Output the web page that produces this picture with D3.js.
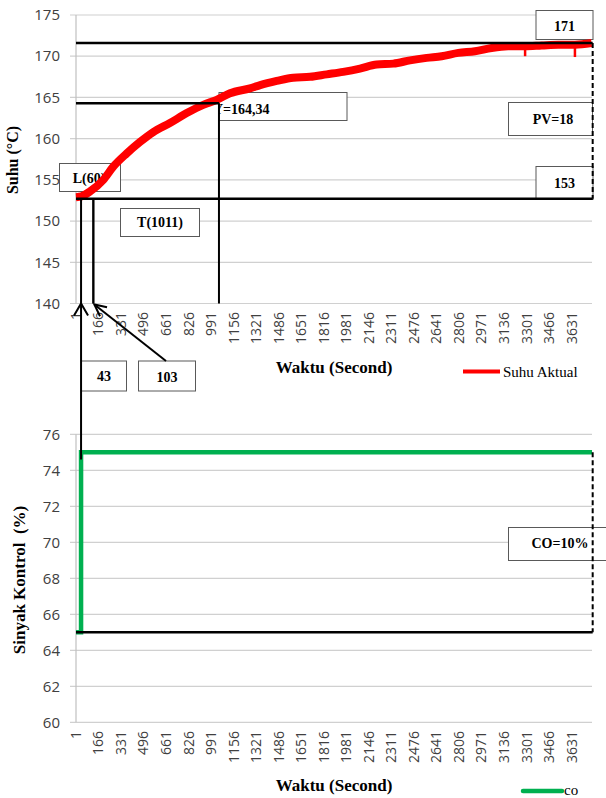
<!DOCTYPE html>
<html lang="en">
<head>
    <meta charset="UTF-8">
    <title>Suhu Aktual dan Sinyak Kontrol</title>
    <style>
        body { margin: 0; background: #fff; }
        svg { display: block; }
        .tick-label { font-family: "Open Sans", sans-serif; font-size: 14px; fill: #404040; }
        .y-label { font-size: 15px; }
        .title { font-family: "Liberation Serif", serif; font-weight: bold; fill: #000; }
        .note { font-family: "Liberation Serif", serif; font-weight: bold; font-size: 14px; fill: #000; }
        .legend { font-family: "Liberation Serif", serif; font-size: 15px; fill: #000; }
    </style>
</head>
<body>
    <svg id="chart" width="606" height="798"></svg>

    <script src="https://d3js.org/d3.v7.min.js"></script>
    <script>
        // ---- data ----
        const timeTicks = d3.range(1, 3632, 165);          // 1, 166, ... 3631
        const suhuTicks = [140, 145, 150, 155, 160, 165, 170, 175];
        const coTicks = [60, 62, 64, 66, 68, 70, 72, 74, 76];

        // Suhu Aktual (deg C) against time (s)
        const suhuTime = [1, 40, 104, 201, 274, 372, 470, 567, 689, 812, 933, 1031, 1129, 1275, 1350,
                          1471, 1592, 1715, 1837, 1958, 2081, 2203, 2325, 2447, 2569, 2679, 2801,
                          2923, 3045, 3167, 3289, 3411, 3533, 3655, 3777];
        const suhuValue = [152.9, 153.0, 153.6, 155.0, 156.6, 158.2, 159.6, 160.8, 161.9, 163.1, 164.1, 164.7,
                           165.5, 166.1, 166.5, 167.0, 167.4, 167.5, 167.8, 168.1, 168.5, 169.0, 169.1,
                           169.5, 169.8, 170.0, 170.4, 170.6, 171.0, 171.2, 171.2, 171.3, 171.4, 171.4, 171.6];
        // short downward spikes in the noisy trace
        const dipTime = [3290, 3655];
        const dipValue = [170.0, 169.9];

        // control output (%)
        const coTime = [1, 38, 38, 3780];
        const coValue = [65, 65, 75, 75];

        // annotation values
        const pvHigh = 171.6, pvMid = 164.3, pvLow = 152.7;
        const tStart = 38, tL = 128, tT = 1048, tEnd = 3785;
        const coHigh = 75, coLow = 65, coArrowEnd = 74.6;
        const topNotes = ["171", "PV=18", "153", "L(60)", "T(1011)", "43", "103"];
        const midNote = "Y=164,34";
        const coNote = "CO=10%";

        // ---- layout ----
        const svg = d3.select("#chart");
        const x = d3.scaleLinear().domain([1, 3780]).range([76, 592]);
        const yTop = d3.scaleLinear().domain([140, 175]).range([303.5, 15]);
        const yBot = d3.scaleLinear().domain([60, 76]).range([722.3, 434.3]);

        function drawFrame(y, ticks, labelY) {
            const g = svg.append("g");
            g.selectAll("line.grid").data(ticks).enter().append("line")
                .attr("x1", 70).attr("x2", 592)
                .attr("y1", d => y(d)).attr("y2", d => y(d))
                .attr("stroke", "#d0d0d0").attr("stroke-width", 1.2);
            g.append("line")
                .attr("x1", 76).attr("x2", 76)
                .attr("y1", y.range()[1]).attr("y2", y.range()[0])
                .attr("stroke", "#c0c0c0").attr("stroke-width", 1.2);
            g.selectAll("text.yl").data(ticks).enter().append("text")
                .attr("class", "tick-label y-label")
                .attr("x", 60).attr("y", d => y(d)).attr("dy", "0.35em")
                .attr("text-anchor", "end")
                .text(d => d);
            g.selectAll("text.xl").data(timeTicks).enter().append("text")
                .attr("class", "tick-label")
                .attr("transform", d => `translate(${x(d)},${labelY}) rotate(-90)`)
                .attr("dy", "0.35em")
                .attr("text-anchor", "end")
                .text(d => d);
            return g;
        }

        function box(x0, y0, w, h, label, cx, cy, cls) {
            svg.append("rect").attr("x", x0).attr("y", y0).attr("width", w).attr("height", h)
                .attr("fill", "#fff").attr("stroke", "#595959").attr("stroke-width", 1);
            svg.append("text").attr("class", cls || "note")
                .attr("x", cx).attr("y", cy).attr("dy", "0.35em")
                .attr("text-anchor", "middle").text(label);
        }

        // ---- top chart ----
        drawFrame(yTop, suhuTicks, 312);

        svg.append("text").attr("class", "title").style("font-size", "16px")
            .attr("transform", "translate(18,160) rotate(-90)")
            .attr("text-anchor", "middle").text("Suhu (°C)");
        svg.append("text").attr("class", "title").style("font-size", "17px")
            .attr("x", 334).attr("y", 373).attr("text-anchor", "middle").text("Waktu (Second)");

        // text boxes (under the trace)
        box(536, 10.5, 57, 29, topNotes[0], 564.5, 26);
        box(508.5, 102.5, 84, 33, topNotes[1], 553, 119.5);
        box(536, 166.5, 57, 33, topNotes[2], 564.5, 183);
        box(59.5, 163.5, 61, 28, topNotes[3], 89, 178);
        box(120.5, 208.5, 79, 28, topNotes[4], 160, 222.5);
        box(81.5, 361, 45, 30, topNotes[5], 104, 376);
        box(138.5, 361, 57, 30, topNotes[6], 167, 377);

        // clipped "Y=164,34" box
        svg.append("clipPath").attr("id", "midclip").append("rect")
            .attr("x", 219).attr("y", 92.5).attr("width", 128).attr("height", 28);
        svg.append("rect").attr("x", 219).attr("y", 92.5).attr("width", 128).attr("height", 28)
            .attr("fill", "#fff").attr("stroke", "#595959").attr("stroke-width", 1);
        svg.append("text").attr("class", "note").attr("clip-path", "url(#midclip)")
            .attr("x", 213).attr("y", 109.5).attr("dy", "0.35em").text(midNote);

        // Suhu Aktual trace
        const suhuPts = suhuTime.map((t, i) => [t, suhuValue[i]]);
        svg.append("path")
            .attr("d", d3.line().x(d => x(d[0])).y(d => yTop(d[1])).curve(d3.curveMonotoneX)(suhuPts))
            .attr("fill", "none").attr("stroke", "#ff0000").attr("stroke-width", 8)
            .attr("stroke-linejoin", "round").attr("stroke-linecap", "butt");
        svg.selectAll("line.dip").data(dipTime).enter().append("line")
            .attr("x1", d => x(d)).attr("x2", d => x(d))
            .attr("y1", (d, i) => yTop(dipValue[i] + 1.3)).attr("y2", (d, i) => yTop(dipValue[i]))
            .attr("stroke", "#ff0000").attr("stroke-width", 2.5);

        // reference lines
        const black = (x1, y1, x2, y2, w, dash) => svg.append("line")
            .attr("x1", x1).attr("y1", y1).attr("x2", x2).attr("y2", y2)
            .attr("stroke", "#000").attr("stroke-width", w || 2.2)
            .attr("stroke-dasharray", dash || null);

        black(x(1), yTop(pvHigh), x(tEnd), yTop(pvHigh), 2.4);
        black(x(1), yTop(pvMid), x(tT), yTop(pvMid), 2.4);
        black(x(1), yTop(pvLow), x(tEnd), yTop(pvLow), 2.4);
        black(x(tEnd), yTop(pvHigh), x(tEnd), yTop(pvLow), 2, "5,3");
        black(x(tL), yTop(pvLow), x(tL), yTop(140), 2.4);
        black(x(tT), yTop(pvMid), x(tT), yTop(140), 2);

        // legend (top)
        svg.append("line").attr("x1", 463).attr("x2", 500).attr("y1", 371.5).attr("y2", 371.5)
            .attr("stroke", "#ff0000").attr("stroke-width", 4);
        svg.append("text").attr("class", "legend").attr("x", 503).attr("y", 377).text("Suhu Aktual");

        // ---- bottom chart ----
        drawFrame(yBot, coTicks, 731);

        svg.append("text").attr("class", "title").style("font-size", "17px")
            .attr("transform", "translate(25,580) rotate(-90)")
            .attr("text-anchor", "middle").style("white-space", "pre")
            .text("Sinyak Kontrol  (%)");
        svg.append("text").attr("class", "title").style("font-size", "17px")
            .attr("x", 334).attr("y", 791).attr("text-anchor", "middle").text("Waktu (Second)");

        box(508.5, 527.5, 110, 33, coNote, 560, 543.5);

        const coPts = coTime.map((t, i) => [t, coValue[i]]);
        svg.append("path")
            .attr("d", d3.line().x(d => x(d[0])).y(d => yBot(d[1]))(coPts))
            .attr("fill", "none").attr("stroke", "#00b050").attr("stroke-width", 4.5);

        black(x(1), yBot(coLow), x(tEnd), yBot(coLow), 2.4);
        black(x(tEnd), yBot(coHigh), x(tEnd), yBot(coLow), 2, "5,3");

        // long arrow from the control step up to the temperature axis
        black(x(tStart), yTop(pvLow), x(tStart), yBot(coArrowEnd), 2);
        const tip1 = [x(tStart), yTop(140)];
        svg.append("path")
            .attr("d", `M${tip1[0] - 7},${tip1[1] + 12} L${tip1[0]},${tip1[1]} L${tip1[0] + 7},${tip1[1] + 12}`)
            .attr("fill", "none").attr("stroke", "#000").attr("stroke-width", 2);

        // arrow from "103" box to the L line
        const from = [166, 361], tip2 = [x(tL) + 1, yTop(140) + 1];
        black(from[0], from[1], tip2[0], tip2[1], 2);
        const ang = Math.atan2(from[1] - tip2[1], from[0] - tip2[0]);
        const wing = a => [tip2[0] + 13 * Math.cos(ang + a), tip2[1] + 13 * Math.sin(ang + a)];
        const w1 = wing(0.45), w2 = wing(-0.45);
        svg.append("path")
            .attr("d", `M${w1[0]},${w1[1]} L${tip2[0]},${tip2[1]} L${w2[0]},${w2[1]}`)
            .attr("fill", "none").attr("stroke", "#000").attr("stroke-width", 2);

        // legend (bottom)
        svg.append("line").attr("x1", 523).attr("x2", 562).attr("y1", 791).attr("y2", 791)
            .attr("stroke", "#00b050").attr("stroke-width", 4.5).attr("stroke-linecap", "round");
        svg.append("text").attr("class", "legend").attr("x", 564).attr("y", 795).text("co");
    </script>
</body>
</html>
